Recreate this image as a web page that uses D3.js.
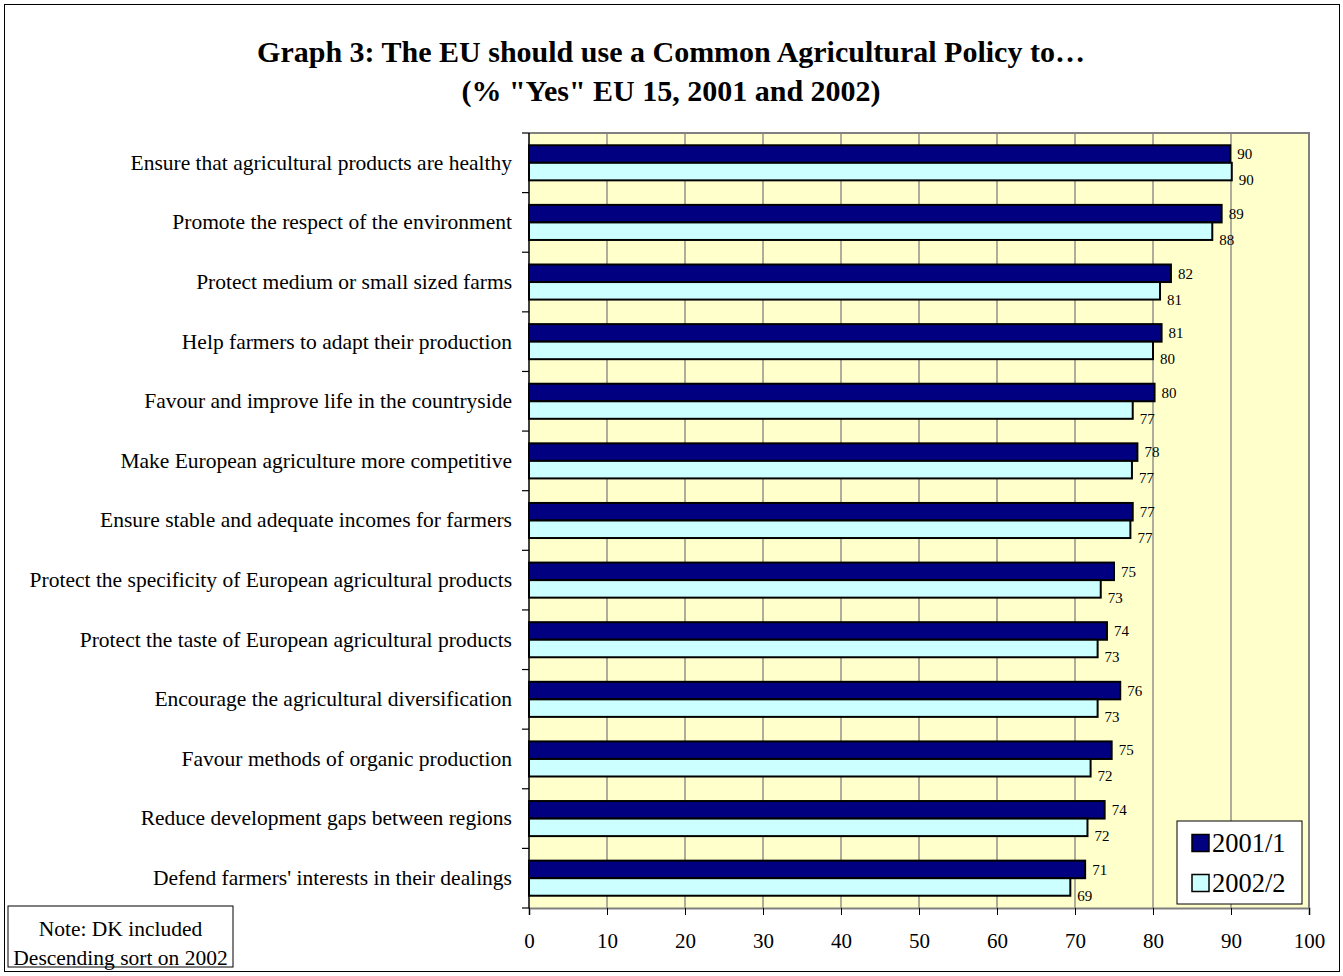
<!DOCTYPE html>
<html>
<head>
<meta charset="utf-8">
<script src="https://cdn.jsdelivr.net/npm/d3@7/dist/d3.min.js"></script>
<style>
  html, body { margin: 0; padding: 0; background: #fff; }
  svg { display: block; }
  text { font-family: "Liberation Serif", "Times New Roman", serif; fill: #000; }
</style>
</head>
<body>
<svg id="chart" width="1343" height="976"></svg>
<script>
// Survey items, top to bottom
const categories = [
  "Ensure that agricultural products are healthy",
  "Promote the respect of the environment",
  "Protect medium or small sized farms",
  "Help farmers to adapt their production",
  "Favour and improve life in the countryside",
  "Make European agriculture more competitive",
  "Ensure stable and adequate incomes for farmers",
  "Protect the specificity of European agricultural products",
  "Protect the taste of European agricultural products",
  "Encourage the agricultural diversification",
  "Favour methods of organic production",
  "Reduce development gaps between regions",
  "Defend farmers' interests in their dealings"
];
const seriesNames = ["2001/1", "2002/2"];
const values2001 = [89.9, 88.8, 82.3, 81.1, 80.2, 78.0, 77.4, 75.0, 74.1, 75.8, 74.7, 73.8, 71.3];
const values2002 = [90.1, 87.6, 80.9, 80.0, 77.4, 77.3, 77.1, 73.3, 72.9, 72.9, 72.0, 71.6, 69.4];
const xTicks = [0, 10, 20, 30, 40, 50, 60, 70, 80, 90, 100];
const titleLines = [
  "Graph 3: The EU should use a Common Agricultural Policy to\u2026",
  "(% \"Yes\" EU 15, 2001 and 2002)"
];
const noteLines = ["Note: DK included", "Descending sort on 2002"];

const colors = { "2001/1": "#000080", "2002/2": "#CCFFFF" };

const rows = categories.map((c, i) => ({
  category: c,
  values: [
    { series: seriesNames[0], value: values2001[i] },
    { series: seriesNames[1], value: values2002[i] }
  ]
}));

const svg = d3.select("#chart");

// outer frame
svg.append("rect")
  .attr("x", 4.5).attr("y", 4.5)
  .attr("width", 1335).attr("height", 967)
  .attr("fill", "#fff").attr("stroke", "#000").attr("stroke-width", 1);

// title
svg.append("g").selectAll("text")
  .data(titleLines)
  .join("text")
  .attr("x", 671)
  .attr("y", (d, i) => 62 + i * 39)
  .attr("text-anchor", "middle")
  .attr("font-size", 30)
  .attr("font-weight", "bold")
  .text(d => d);

// plot area
const plot = { left: 529, right: 1309, top: 133, bottom: 908 };

const x = d3.scaleLinear().domain([0, 100]).range([plot.left, plot.right]);
const y = d3.scaleBand().domain(categories).range([plot.top, plot.bottom]).padding(0);
const ySub = d3.scaleBand().domain(seriesNames).range([0, y.bandwidth()])
  .paddingInner(0).paddingOuter(0.7);

svg.append("rect")
  .attr("x", plot.left).attr("y", plot.top)
  .attr("width", plot.right - plot.left).attr("height", plot.bottom - plot.top)
  .attr("fill", "#FFFFCC");

// vertical gridlines
svg.append("g").selectAll("line")
  .data(xTicks.filter(t => t > 0 && t < 100))
  .join("line")
  .attr("x1", d => x(d)).attr("x2", d => x(d))
  .attr("y1", plot.top).attr("y2", plot.bottom)
  .attr("stroke", "#777").attr("stroke-width", 1.2);

// bars
const groups = svg.append("g").selectAll("g")
  .data(rows)
  .join("g")
  .attr("transform", d => `translate(0,${y(d.category)})`);

groups.selectAll("rect")
  .data(d => d.values)
  .join("rect")
  .attr("x", x(0))
  .attr("y", d => ySub(d.series))
  .attr("width", d => x(d.value) - x(0))
  .attr("height", ySub.bandwidth())
  .attr("fill", d => colors[d.series])
  .attr("stroke", "#000")
  .attr("stroke-width", 2);

// value labels
groups.selectAll("text")
  .data(d => d.values)
  .join("text")
  .attr("x", d => x(d.value) + 7)
  .attr("y", (d, i) => ySub(d.series) + ySub.bandwidth() / 2 + (i === 1 ? 8.5 : 0))
  .attr("dy", "0.35em")
  .attr("font-size", 15)
  .text(d => d3.format(".0f")(d.value));

// plot border (top and right)
svg.append("path")
  .attr("d", `M${plot.left},${plot.top}H${plot.right}V${plot.bottom}`)
  .attr("fill", "none").attr("stroke", "#808080").attr("stroke-width", 2);

// x axis
const xAxis = svg.append("g")
  .attr("transform", `translate(0,${plot.bottom})`)
  .call(d3.axisBottom(x).tickValues(xTicks).tickSize(7).tickPadding(18).tickFormat(d3.format("d")));
xAxis.select(".domain").attr("stroke", "#808080").attr("stroke-width", 2);
xAxis.selectAll(".tick line").attr("stroke", "#000");
xAxis.selectAll(".tick text")
  .attr("font-family", "Liberation Serif, Times New Roman, serif")
  .attr("font-size", 21).attr("fill", "#000");

// y axis: category labels centred on bands
const yAxis = svg.append("g")
  .attr("transform", `translate(${plot.left},0)`)
  .call(d3.axisLeft(y).tickSize(0).tickPadding(17));
yAxis.select(".domain").remove();
yAxis.selectAll(".tick text")
  .attr("font-family", "Liberation Serif, Times New Roman, serif")
  .attr("font-size", 21.5).attr("fill", "#000");

// y axis line with tick marks at band boundaries
const boundaries = categories.map(c => y(c)).concat([plot.bottom]);
svg.append("line")
  .attr("x1", plot.left).attr("x2", plot.left)
  .attr("y1", plot.top).attr("y2", plot.bottom)
  .attr("stroke", "#000").attr("stroke-width", 1.5);
svg.append("g").selectAll("line")
  .data(boundaries)
  .join("line")
  .attr("x1", plot.left - 7).attr("x2", plot.left)
  .attr("y1", d => d).attr("y2", d => d)
  .attr("stroke", "#000").attr("stroke-width", 1.2);

// legend
const legend = svg.append("g").attr("transform", "translate(1177,821)");
legend.append("rect")
  .attr("width", 125).attr("height", 83)
  .attr("fill", "#fff").attr("stroke", "#000").attr("stroke-width", 1);
const items = legend.selectAll("g.item")
  .data(seriesNames)
  .join("g").attr("class", "item")
  .attr("transform", (d, i) => `translate(0,${21.5 + i * 40})`);
items.append("rect")
  .attr("x", 15).attr("y", -8)
  .attr("width", 17).attr("height", 17)
  .attr("fill", d => colors[d]).attr("stroke", "#000").attr("stroke-width", 1.5);
items.append("text")
  .attr("x", 35).attr("dy", "0.35em")
  .attr("font-size", 26.5)
  .text(d => d);

// note box
const note = svg.append("g").attr("transform", "translate(8,906)");
note.append("rect")
  .attr("width", 225).attr("height", 61)
  .attr("fill", "#fff").attr("stroke", "#000").attr("stroke-width", 1);
note.selectAll("text")
  .data(noteLines)
  .join("text")
  .attr("x", 112.5)
  .attr("y", (d, i) => 22 + i * 29)
  .attr("dy", "0.35em")
  .attr("text-anchor", "middle")
  .attr("font-size", 21.5)
  .text(d => d);
</script>
</body>
</html>
